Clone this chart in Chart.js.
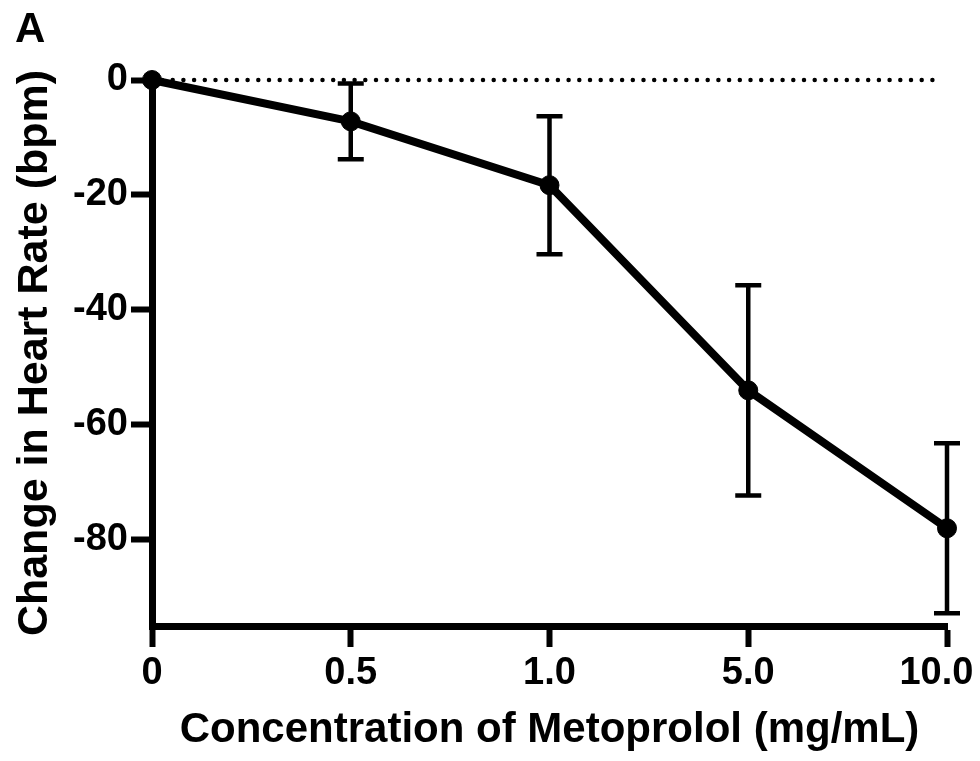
<!DOCTYPE html>
<html>
<head>
<meta charset="utf-8">
<script src="https://cdn.jsdelivr.net/npm/chart.js@4"></script>
<style>
  body { margin: 0; background: #fff; }
  canvas { display: block; }
</style>
</head>
<body>
<canvas id="hrChart" width="980" height="761"></canvas>
<script>
// metoprolol concentrations (categorical, equally spaced)
const concLabels = ['0', '0.5', '1.0', '5.0', '10.0'];
// mean change in heart rate (bpm) and error bar half-length
const meanChange = [0, -7.2, -18.3, -54.0, -78.0];
const errChange = [0, 6.6, 12.0, 18.3, 14.8];
const yTicks = [0, -20, -40, -60, -80];

Chart.defaults.font.family = "'Liberation Sans', Arial, sans-serif";
Chart.defaults.font.weight = 'bold';
Chart.defaults.color = '#000';

// dotted reference line at y = 0, drawn under the data
const zeroLine = {
    id: 'zeroLine',
    beforeDatasetsDraw(chart) {
        const ctx = chart.ctx;
        const area = chart.chartArea;
        const y = chart.scales.y.getPixelForValue(0);
        ctx.save();
        ctx.strokeStyle = '#000';
        ctx.lineWidth = 4.5;
        ctx.lineCap = 'round';
        ctx.setLineDash([0, 10.7]);
        ctx.beginPath();
        ctx.moveTo(area.left + 10, y);
        ctx.lineTo(area.right - 5, y);
        ctx.stroke();
        ctx.restore();
    }
};

// vertical error bars with caps
const errorBars = {
    id: 'errorBars',
    beforeDatasetsDraw(chart) {
        const ctx = chart.ctx;
        const xs = chart.scales.x, ys = chart.scales.y;
        ctx.save();
        ctx.strokeStyle = '#000';
        ctx.lineWidth = 4.5;
        meanChange.forEach(function (m, i) {
            const e = errChange[i];
            if (!e) return;
            const x = xs.getPixelForValue(i);
            const top = ys.getPixelForValue(m + e);
            const bot = ys.getPixelForValue(m - e);
            ctx.beginPath();
            ctx.moveTo(x, top);
            ctx.lineTo(x, bot);
            ctx.moveTo(x - 13, top);
            ctx.lineTo(x + 13, top);
            ctx.moveTo(x - 13, bot);
            ctx.lineTo(x + 13, bot);
            ctx.stroke();
        });
        ctx.restore();
    }
};

// panel letter
const panelLetter = {
    id: 'panelLetter',
    afterDraw(chart) {
        const ctx = chart.ctx;
        ctx.save();
        ctx.fillStyle = '#000';
        ctx.font = "bold 42px 'Liberation Sans', Arial, sans-serif";
        ctx.textAlign = 'left';
        ctx.textBaseline = 'alphabetic';
        ctx.fillText('A', 15, 42);
        ctx.restore();
    }
};

const ctx = document.getElementById('hrChart').getContext('2d');
const chart = new Chart(ctx, {
    type: 'line',
    data: {
        labels: concLabels,
        datasets: [{
            data: meanChange,
            borderColor: '#000',
            backgroundColor: '#000',
            borderWidth: 8,
            pointRadius: 9.5,
            pointBorderWidth: 1,
            tension: 0,
            clip: false
        }]
    },
    options: {
        responsive: false,
        animation: false,
        layout: { padding: { top: 80, right: 33, left: 0, bottom: 0 } },
        plugins: {
            legend: { display: false },
            tooltip: { enabled: false }
        },
        scales: {
            x: {
                type: 'category',
                offset: false,
                grid: { drawOnChartArea: false, tickLength: 21, tickWidth: 6, tickColor: '#000' },
                border: { color: '#000', width: 7 },
                ticks: {
                    color: '#000',
                    font: { size: 38, weight: 'bold' },
                    padding: 4,
                    maxRotation: 0,
                    autoSkip: false,
                    callback: function (value, index) {
                        const l = this.getLabelForValue(value);
                        return index === concLabels.length - 1 ? l + '\u00a0\u00a0' : l;
                    }
                },
                title: {
                    display: true,
                    text: 'Concentration of Metoprolol (mg/mL)',
                    color: '#000',
                    font: { size: 42, weight: 'bold' },
                    padding: { top: 0, bottom: 5 }
                },
                afterFit(s) {
                    s.height = 135;
                    s.paddingLeft = 0;
                    s.paddingRight = 0;
                }
            },
            y: {
                min: -95,
                max: 0,
                afterBuildTicks(s) {
                    s.ticks = yTicks.map(v => ({ value: v }));
                },
                grid: { drawOnChartArea: false, tickLength: 21, tickWidth: 6, tickColor: '#000' },
                border: { color: '#000', width: 7 },
                ticks: {
                    color: '#000',
                    font: { size: 38, weight: 'bold' },
                    padding: 3
                },
                title: {
                    display: true,
                    text: 'Change in Heart Rate (bpm)',
                    color: '#000',
                    font: { size: 43, weight: 'bold' },
                    padding: { top: 9, bottom: 0 }
                },
                afterFit(s) {
                    s.width = 152;
                }
            }
        }
    },
    plugins: [zeroLine, errorBars, panelLetter]
});
</script>
</body>
</html>
